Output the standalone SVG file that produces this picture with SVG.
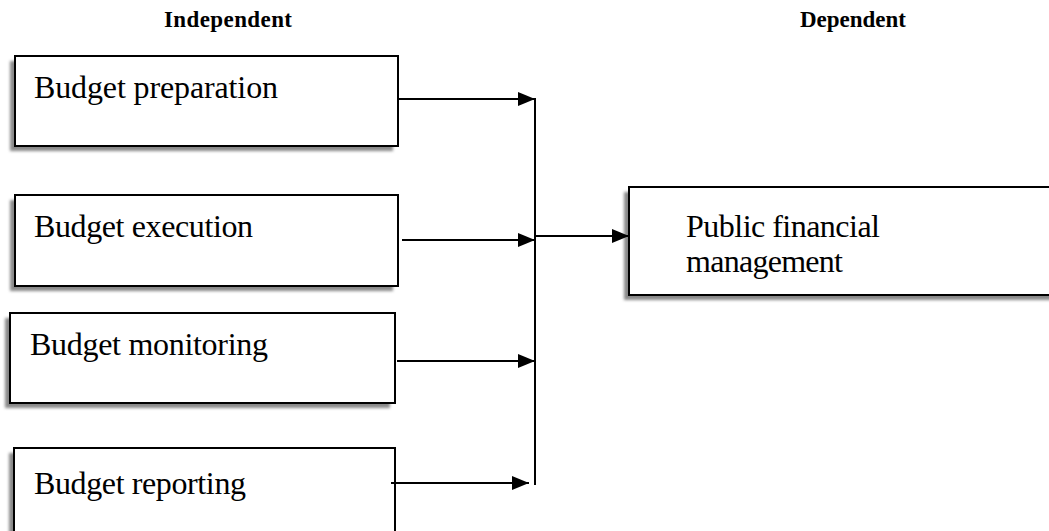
<svg xmlns="http://www.w3.org/2000/svg" width="1049" height="531" viewBox="0 0 1049 531">
<style>
.box{fill:#fff;stroke:#000;stroke-width:2}
.shadow{fill:#888;filter:url(#blur)}
.lbl{font-family:"Liberation Serif","Times New Roman",serif;font-size:32px;fill:#000}
.hdr{font-family:"Liberation Serif","Times New Roman",serif;font-size:23px;font-weight:bold;fill:#000}
.conn{stroke:#000;stroke-width:2;fill:none}
</style>
<defs>
<filter id="blur" x="-5%" y="-10%" width="110%" height="120%"><feGaussianBlur stdDeviation="1.5"/></filter>
<marker id="arr" markerWidth="17" markerHeight="14" refX="17" refY="7" orient="auto" markerUnits="userSpaceOnUse">
<path d="M0,0 L17,7 L0,14 Z" fill="#000"/>
</marker>
</defs>
<rect width="1049" height="531" fill="#fff"/>
<text class="hdr" x="164" y="27" textLength="128">Independent</text>
<text class="hdr" x="800" y="27" textLength="106">Dependent</text>
<g id="node-preparation">
<rect class="shadow" x="10" y="61" width="383" height="90"/>
<rect class="box" x="15" y="56" width="383" height="90"/>
<text class="lbl" x="34" y="98" textLength="244" lengthAdjust="spacing">Budget preparation</text>
</g>
<g id="node-execution">
<rect class="shadow" x="10" y="200" width="383" height="91"/>
<rect class="box" x="15" y="195" width="383" height="91"/>
<text class="lbl" x="34" y="237" textLength="219" lengthAdjust="spacing">Budget execution</text>
</g>
<g id="node-monitoring">
<rect class="shadow" x="5" y="318" width="385" height="90"/>
<rect class="box" x="10" y="313" width="385" height="90"/>
<text class="lbl" x="30" y="355" textLength="238" lengthAdjust="spacing">Budget monitoring</text>
</g>
<g id="node-reporting">
<rect class="shadow" x="9" y="453" width="381" height="100"/>
<rect class="box" x="14" y="448" width="381" height="100"/>
<text class="lbl" x="34" y="494" textLength="212" lengthAdjust="spacing">Budget reporting</text>
</g>
<g id="node-pfm">
<rect class="shadow" x="624" y="192" width="440" height="108"/>
<rect class="box" x="629" y="187" width="440" height="108"/>
<text class="lbl" x="686" y="237" textLength="194" lengthAdjust="spacing">Public financial</text>
<text class="lbl" x="686" y="272" textLength="157" lengthAdjust="spacing">management</text>
</g>
<g id="connectors">
<line class="conn" x1="535" y1="98" x2="535" y2="485"/>
<line class="conn" x1="398" y1="99" x2="535" y2="99" marker-end="url(#arr)"/>
<line class="conn" x1="402" y1="240" x2="535" y2="240" marker-end="url(#arr)"/>
<line class="conn" x1="397" y1="361" x2="535" y2="361" marker-end="url(#arr)"/>
<line class="conn" x1="391" y1="483" x2="529" y2="483" marker-end="url(#arr)"/>
<line class="conn" x1="535" y1="236" x2="629" y2="236" marker-end="url(#arr)"/>
</g>
</svg>
